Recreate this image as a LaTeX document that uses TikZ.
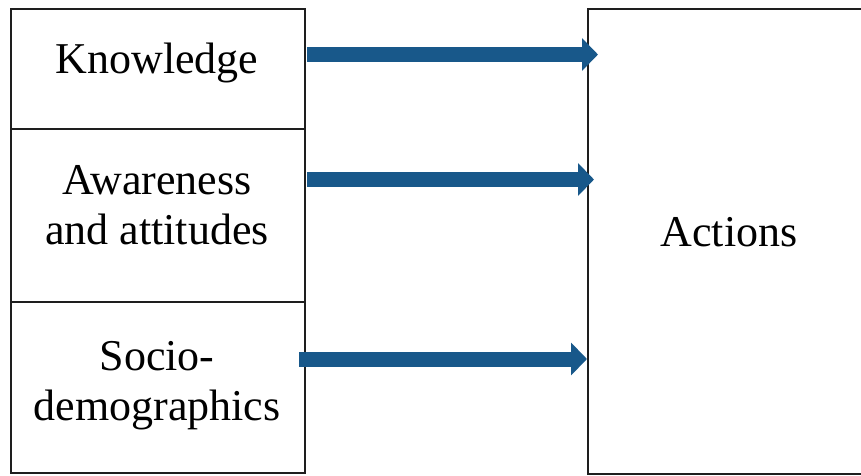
\documentclass[tikz,border=0pt]{standalone}
\usepackage{fontspec}
\setmainfont{Liberation Serif}
\usetikzlibrary{arrows.meta}
\definecolor{flowblue}{RGB}{24,88,138}
\definecolor{edge}{RGB}{30,30,30}
\tikzset{
  cell/.style={draw=edge, line width=2pt, fill=white, inner sep=0pt, anchor=north west},
  lbl/.style={font=\fontsize{44}{49.5}\selectfont, align=center, inner sep=0pt, anchor=base},
  flow/.style={draw=flowblue, line width=15pt, -{Triangle[length=16pt,width=32pt]}}
}
\begin{document}
\begin{tikzpicture}[x=1pt,y=-1pt]
  \useasboundingbox (0,0) rectangle (861,475);
  \fill[white] (0,0) rectangle (861,475);
  % left column of factors
  \node[cell, minimum width=294pt, minimum height=120pt] (know) at (10,8) {};
  \node[cell, minimum width=294pt, minimum height=173pt] (aware) at (10,128) {};
  \node[cell, minimum width=294pt, minimum height=171pt] (socio) at (10,301) {};
  % outcome box (runs off the right edge)
  \node[cell, minimum width=290pt, minimum height=465pt] (act) at (587,8) {};
  % labels, placed by the baseline of their last line
  \node[lbl] (tknow) at (157,73) {Knowledge};
  \node[lbl] (taware) at (157,244) {Awareness\\and attitudes};
  \node[lbl] (tsocio) at (157,420) {Socio-\\demographics};
  \node[lbl] (tact) at (729,246) {Actions};
  % arrow end points
  \coordinate (s1) at (307,54.5);  \coordinate (e1) at (598,54.5);
  \coordinate (s2) at (307,179.5); \coordinate (e2) at (594,179.5);
  \coordinate (s3) at (299,359); \coordinate (e3) at (587,359);
  \draw[flow] (s1) -- (e1);
  \draw[flow] (s2) -- (e2);
  \draw[flow] (s3) -- (e3);
\end{tikzpicture}
\end{document}
